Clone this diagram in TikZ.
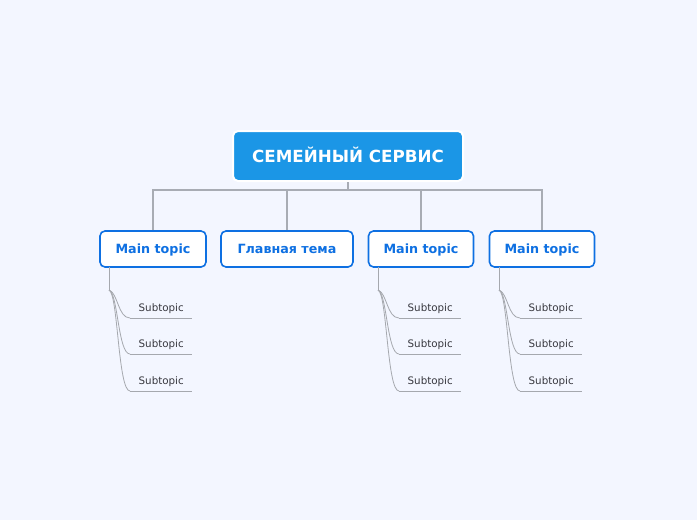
\documentclass[tikz,border=0pt]{standalone}
\usepackage{fontspec}
\setmainfont{DejaVu Sans}
\definecolor{bgc}{RGB}{243,246,255}
\definecolor{rootfill}{RGB}{27,150,230}
\definecolor{topicblue}{RGB}{14,112,226}
\definecolor{linkgray}{RGB}{168,172,180}
\definecolor{subgray}{RGB}{165,168,174}
\definecolor{subtext}{RGB}{55,55,62}
\tikzset{
  rootbox/.style={draw=white, line width=2pt, fill=rootfill, rounded corners=5pt,
    minimum width=230pt, minimum height=50pt, inner sep=0pt,
    text height=12.2pt, text depth=0pt,
    text=white, font=\fontsize{16.7}{20}\selectfont\bfseries},
  topicbox/.style={draw=topicblue, line width=1.6pt, fill=white, rounded corners=5pt,
    minimum height=36pt, inner sep=0pt, text height=9.3pt, text depth=0pt,
    text=topicblue, font=\fontsize{12.7}{15}\selectfont\bfseries},
  subbox/.style={minimum width=62pt, minimum height=18pt, inner sep=0pt, anchor=south west,
    text=subtext, font=\fontsize{10.3}{12}\selectfont},
  mainlink/.style={draw=linkgray, line width=1.8pt},
  sublink/.style={draw=subgray, line width=0.8pt},
}
\begin{document}
\begin{tikzpicture}[x=1pt,y=-1pt]
\fill[bgc] (0,0) rectangle (697,520);
\useasboundingbox (0,0) rectangle (697,520);

\node[rootbox] (root) at (348,156) {СЕМЕЙНЫЙ СЕРВИС};
\node[topicbox, minimum width=106pt] (t1) at (153,249) {Main topic};
\node[topicbox, minimum width=132pt] (t2) at (287,249) {Главная тема};
\node[topicbox, minimum width=105pt] (t3) at (421,249) {Main topic};
\node[topicbox, minimum width=105pt] (t4) at (542,249) {Main topic};

\coordinate (hub) at (348,190);
\path[mainlink] (root.south) -- (hub);
\foreach \t in {t1,t2,t3,t4}{
  \path[mainlink] (hub) -| (\t.north);
}

% subtopics
\foreach \t/\x in {t1/109,t3/378,t4/499}{
  \coordinate (\t b) at (\x,267);
  \coordinate (\t c) at (\x,290);
  \path[sublink] (\t b) -- (\t c);
  \foreach \i/\y in {1/318,2/354,3/391}{
    \node[subbox] (\t s\i) at (\x+21,\y) {Subtopic};
    \path[sublink] (\t s\i.south west) -- (\t s\i.south east);
    \path[sublink] (\t c) .. controls +(9,3) and +(-12,0) .. (\t s\i.south west);
  }
}
\end{tikzpicture}
\end{document}
